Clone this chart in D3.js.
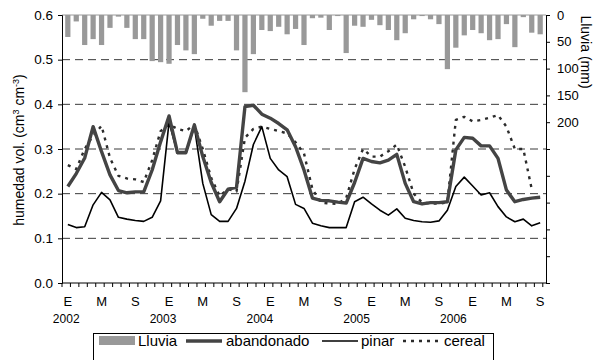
<!DOCTYPE html>
<html lang="es">
<head>
<meta charset="UTF-8">
<title>Humedad y lluvia</title>
<script src="https://d3js.org/d3.v7.min.js"></script>
<style>
  body { margin: 0; background: #fff; }
  svg text { font-family: "Liberation Sans", Arial, sans-serif; fill: #000; }
  .axis path, .axis line { stroke: #000; }
</style>
</head>
<body>
<svg id="chart" width="595" height="360"></svg>
<script>
// monthly series, Jan 2002 .. Sep 2006 (57 months)
const monthLetters = ["E", "", "", "", "M", "", "", "", "S", "", "", ""];
const years = ["2002", "2003", "2004", "2005", "2006"];

const lluvia = [41, 12, 56, 45, 56, 24, 3, 24, 45, 45, 86, 88,
                91, 56, 66, 73, 7, 20, 11, 11, 66, 144, 73, 28,
                30, 22, 36, 26, 56, 6, 5, 28, 2, 71, 20, 22,
                9, 19, 28, 47, 34, 8, 2, 8, 17, 101, 61, 38,
                28, 34, 47, 45, 17, 60, 4, 33, 36];

const abandonado = [0.216, 0.245, 0.28, 0.35, 0.294, 0.242, 0.207, 0.202, 0.204, 0.204, 0.253, 0.316,
                    0.374, 0.292, 0.292, 0.354, 0.283, 0.225, 0.182, 0.21, 0.214, 0.395, 0.398, 0.378,
                    0.369, 0.357, 0.343, 0.305, 0.253, 0.19, 0.185, 0.184, 0.181, 0.179, 0.225, 0.279,
                    0.272, 0.269, 0.275, 0.288, 0.223, 0.182, 0.177, 0.18, 0.18, 0.182, 0.298, 0.326,
                    0.324, 0.307, 0.307, 0.279, 0.208, 0.182, 0.187, 0.19, 0.192];

const pinar = [0.131, 0.124, 0.126, 0.175, 0.203, 0.186, 0.147, 0.143, 0.14, 0.138, 0.147, 0.184,
               0.36, 0.29, 0.29, 0.35, 0.223, 0.153, 0.138, 0.138, 0.167, 0.228, 0.31, 0.35,
               0.279, 0.253, 0.238, 0.176, 0.167, 0.134, 0.128, 0.124, 0.124, 0.124, 0.182, 0.192,
               0.177, 0.163, 0.152, 0.166, 0.145, 0.14, 0.137, 0.136, 0.139, 0.163, 0.216, 0.237,
               0.217, 0.197, 0.202, 0.171, 0.148, 0.137, 0.143, 0.128, 0.135];

const cereal = [0.264, 0.255, 0.30, 0.33, 0.352, 0.28, 0.24, 0.234, 0.232, 0.226, 0.275, 0.34,
                0.355, 0.345, 0.34, 0.355, 0.30, 0.235, 0.195, 0.21, 0.205, 0.325, 0.345, 0.35,
                0.345, 0.34, 0.335, 0.315, 0.29, 0.21, 0.18, 0.178, 0.177, 0.19, 0.255, 0.30,
                0.283, 0.283, 0.295, 0.31, 0.26, 0.2, 0.18, 0.178, 0.178, 0.18, 0.365, 0.372,
                0.362, 0.365, 0.37, 0.376, 0.35, 0.30, 0.30, 0.21, null];

const months = d3.range(lluvia.length);

const svg = d3.select("#chart");
const plotLeft = 62, plotRight = 546, plotTop = 15, plotBottom = 283;

const x = d3.scaleBand().domain(months).range([plotLeft, plotRight]).padding(0.38);
const xc = i => x(i) + x.bandwidth() / 2;
const step = x.step();
const y = d3.scaleLinear().domain([0, 0.6]).range([plotBottom, plotTop]);
const yRain = d3.scaleLinear().domain([0, 500]).range([plotTop, plotBottom]);

// gridlines
svg.append("g")
  .selectAll("line")
  .data([0.1, 0.2, 0.3, 0.4, 0.5])
  .join("line")
  .attr("x1", plotLeft).attr("x2", plotRight)
  .attr("y1", d => y(d)).attr("y2", d => y(d))
  .attr("stroke", "#3a3a3a")
  .attr("stroke-dasharray", "8,5");

// top border
svg.append("line")
  .attr("x1", plotLeft).attr("x2", plotRight)
  .attr("y1", y(0.6)).attr("y2", y(0.6))
  .attr("stroke", "#9a9a9a");

// rain bars hanging from the top
svg.append("g")
  .selectAll("rect")
  .data(months)
  .join("rect")
  .attr("x", i => x(i))
  .attr("y", yRain(0))
  .attr("width", x.bandwidth())
  .attr("height", i => yRain(lluvia[i]) - yRain(0))
  .attr("fill", "#999999");

// moisture lines
const line = d3.line()
  .defined(d => d[1] != null)
  .x(d => xc(d[0]))
  .y(d => y(d[1]));

const series = [
  {name: "cereal", values: cereal, color: "#2b2b2b", width: 2.4, dash: "3,5"},
  {name: "pinar", values: pinar, color: "#000", width: 1.6, dash: null},
  {name: "abandonado", values: abandonado, color: "#444", width: 3.4, dash: null}
];

svg.append("g")
  .selectAll("path")
  .data(series)
  .join("path")
  .attr("d", s => line(s.values.map((v, i) => [i, v])))
  .attr("fill", "none")
  .attr("stroke", s => s.color)
  .attr("stroke-width", s => s.width)
  .attr("stroke-dasharray", s => s.dash)
  .attr("stroke-linejoin", "round");

// left axis
const yAxis = svg.append("g")
  .attr("class", "axis")
  .attr("transform", `translate(${plotLeft},0)`)
  .call(d3.axisLeft(y).tickValues(d3.range(0, 0.61, 0.1)).tickFormat(d3.format(".1f")).tickSize(4).tickPadding(5));
yAxis.selectAll("text").style("font-size", "13.5px");

// right axis (rain)
const rAxis = svg.append("g")
  .attr("class", "axis")
  .attr("transform", `translate(${plotRight},0)`)
  .call(d3.axisRight(yRain).tickValues(d3.range(0, 501, 50))
    .tickFormat(d => d <= 200 ? d : "").tickSize(4).tickPadding(7));
rAxis.selectAll("text").style("font-size", "13px");

// bottom axis: tick at each month boundary
const bAxis = svg.append("g").attr("class", "axis");
bAxis.append("line")
  .attr("x1", plotLeft).attr("x2", plotRight)
  .attr("y1", plotBottom).attr("y2", plotBottom)
  .attr("stroke", "#000");
bAxis.selectAll("line.tick")
  .data(d3.range(months.length + 1))
  .join("line")
  .attr("class", "tick")
  .attr("x1", i => plotLeft + i * step).attr("x2", i => plotLeft + i * step)
  .attr("y1", plotBottom).attr("y2", plotBottom + 4)
  .attr("stroke", "#000");
bAxis.selectAll("text.month")
  .data(months.filter(i => monthLetters[i % 12] !== ""))
  .join("text")
  .attr("class", "month")
  .attr("x", i => xc(i))
  .attr("y", 306)
  .attr("text-anchor", "middle")
  .style("font-size", "13px")
  .text(i => monthLetters[i % 12]);

const yearScale = d3.scaleBand().domain(years).range([plotLeft, plotRight]);
bAxis.selectAll("text.year")
  .data(years)
  .join("text")
  .attr("class", "year")
  .attr("x", d => yearScale(d) + step / 2)
  .attr("y", 323)
  .attr("text-anchor", "middle")
  .style("font-size", "12px")
  .text(d => d);

// axis titles
const yTitle = svg.append("text")
  .attr("transform", "translate(24,150) rotate(-90)")
  .attr("text-anchor", "middle")
  .style("font-size", "14px");
yTitle.append("tspan").text("humedad vol. (cm");
yTitle.append("tspan").attr("dy", -5).style("font-size", "9px").text("3");
yTitle.append("tspan").attr("dy", 5).text(" cm");
yTitle.append("tspan").attr("dy", -5).style("font-size", "9px").text("-3");
yTitle.append("tspan").attr("dy", 5).text(")");

svg.append("text")
  .attr("transform", "translate(581,52) rotate(90)")
  .attr("text-anchor", "middle")
  .style("font-size", "14px")
  .text("Lluvia (mm)");

// legend
const legend = svg.append("g");
legend.append("rect")
  .attr("x", 93.5).attr("y", 333.5)
  .attr("width", 400).attr("height", 30)
  .attr("fill", "#fff").attr("stroke", "#000");

const legendItems = [
  {label: "Lluvia", type: "bar", x0: 99, x1: 135, tx: 138},
  {label: "abandonado", type: "abandonado", x0: 186, x1: 222, tx: 226},
  {label: "pinar", type: "pinar", x0: 322, x1: 358, tx: 361},
  {label: "cereal", type: "cereal", x0: 403, x1: 442, tx: 444}
];
legendItems.forEach(it => {
  if (it.type === "bar") {
    legend.append("rect")
      .attr("x", it.x0).attr("y", 336)
      .attr("width", it.x1 - it.x0).attr("height", 9)
      .attr("fill", "#999999");
  } else {
    const s = series.find(d => d.name === it.type);
    legend.append("line")
      .attr("x1", it.x0).attr("x2", it.x1)
      .attr("y1", 341).attr("y2", 341)
      .attr("stroke", s.color)
      .attr("stroke-width", s.width)
      .attr("stroke-dasharray", s.dash);
  }
  legend.append("text")
    .attr("x", it.tx).attr("y", 346)
    .style("font-size", "15px")
    .text(it.label);
});
</script>
</body>
</html>
